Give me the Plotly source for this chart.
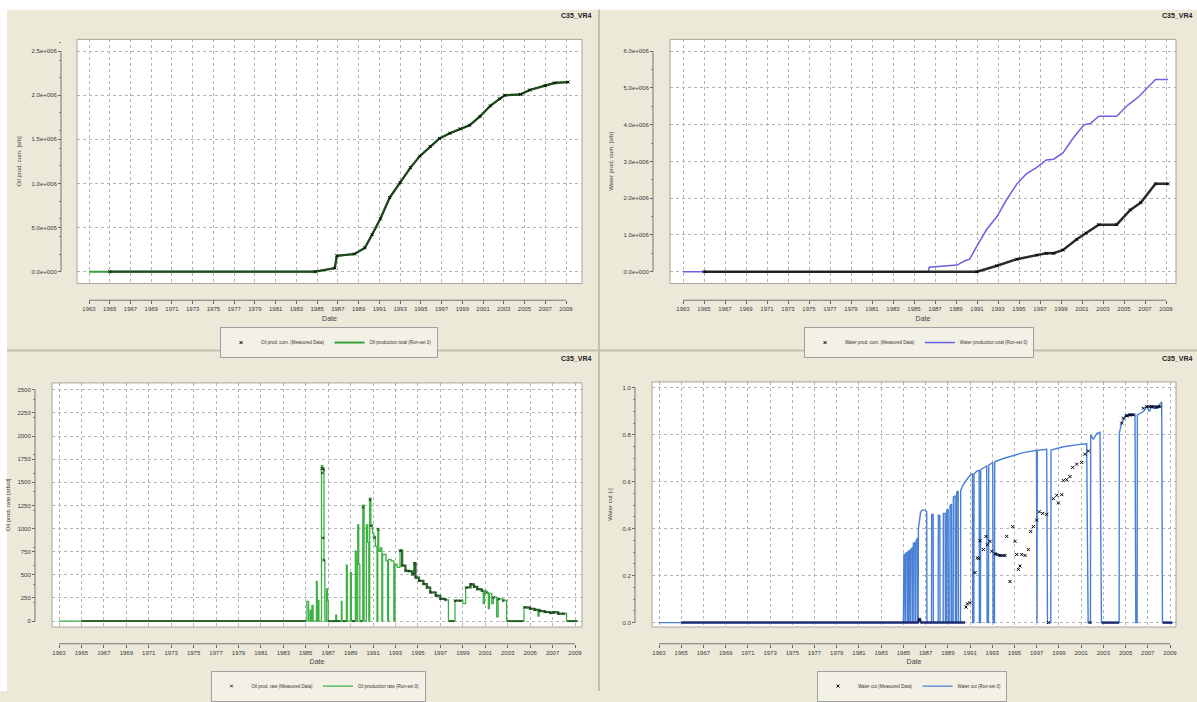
import plotly.graph_objects as go

W, H = 1197, 702
BEIGE = '#ECE9D8'
FONT = 'Liberation Sans'

# ---------------- data ----------------
year_ticks = list(range(1963, 2010, 2))
year_labels = [str(y) for y in year_ticks]

oil_cum_ticks = [0, 5e5, 1e6, 1.5e6, 2e6, 2.5e6]
oil_cum_labels = ['0.0e+000', '5.0e+005', '1.0e+006', '1.5e+006', '2.0e+006', '2.5e+006']
water_cum_ticks = [0, 1e6, 2e6, 3e6, 4e6, 5e6, 6e6]
water_cum_labels = ['0.0e+000', '1.0e+006', '2.0e+006', '3.0e+006', '4.0e+006', '5.0e+006', '6.0e+006']
oil_rate_ticks = [0, 250, 500, 750, 1000, 1250, 1500, 1750, 2000, 2250, 2500]
oil_rate_labels = [str(v) for v in oil_rate_ticks]
wcut_ticks = [0.0, 0.2, 0.4, 0.6, 0.8, 1.0]
wcut_labels = ['0.0', '0.2', '0.4', '0.6', '0.8', '1.0']

# Panel 1: oil cumulative
oil_cum_sim_years = [1963.0, 1984.8, 1986.7, 1986.9, 1988.6, 1989.6, 1990.3, 1991.1, 1992.0, 1993.0, 1994.0,
                     1994.9, 1995.9, 1996.8, 1997.8, 1998.8, 1999.7, 2000.7, 2001.7, 2002.6, 2003.1, 2004.6,
                     2005.5, 2007.0, 2007.9, 2009.3]
oil_cum_sim = [0, 0, 0.04e6, 0.18e6, 0.20e6, 0.27e6, 0.42e6, 0.60e6, 0.84e6, 1.01e6, 1.18e6,
               1.31e6, 1.42e6, 1.51e6, 1.57e6, 1.62e6, 1.66e6, 1.76e6, 1.88e6, 1.96e6, 2.00e6, 2.01e6,
               2.06e6, 2.11e6, 2.14e6, 2.15e6]
oil_cum_meas_years = [1965.0, 1984.8, 1986.7, 1986.9, 1988.6, 1989.6, 1990.3, 1991.1, 1992.0, 1993.0, 1994.0,
                      1994.9, 1995.9, 1996.8, 1997.8, 1998.8, 1999.7, 2000.7, 2001.7, 2002.6, 2003.1, 2004.6,
                      2005.5, 2007.0, 2007.9, 2009.2]
oil_cum_meas = [0, 0, 0.04e6, 0.18e6, 0.20e6, 0.27e6, 0.42e6, 0.60e6, 0.84e6, 1.01e6, 1.18e6,
                1.31e6, 1.42e6, 1.51e6, 1.57e6, 1.62e6, 1.66e6, 1.76e6, 1.88e6, 1.96e6, 2.00e6, 2.01e6,
                2.06e6, 2.11e6, 2.14e6, 2.15e6]

# Panel 2: water cumulative
water_cum_sim_years = [1963.0, 1986.35, 1986.45, 1989.1, 1989.8, 1990.3, 1991.0, 1991.9, 1992.9, 1993.8, 1994.8,
                       1995.7, 1996.7, 1997.6, 1998.3, 1999.2, 2000.2, 2001.2, 2001.8, 2002.6, 2004.3,
                       2005.4, 2006.4, 2007.2, 2008.0, 2009.2]
water_cum_sim = [0, 0, 0.12e6, 0.18e6, 0.29e6, 0.34e6, 0.70e6, 1.14e6, 1.50e6, 1.95e6, 2.39e6,
                 2.66e6, 2.84e6, 3.04e6, 3.06e6, 3.24e6, 3.65e6, 4.00e6, 4.03e6, 4.23e6, 4.23e6,
                 4.54e6, 4.76e6, 4.99e6, 5.23e6, 5.23e6]
water_cum_meas_years = [1965.0, 1991.0, 1992.9, 1994.8, 1996.7, 1997.6, 1998.3, 1999.2, 2000.5, 2001.4,
                        2002.6, 2004.3, 2005.6, 2006.6, 2008.0, 2009.2]
water_cum_meas = [0, 0, 0.16e6, 0.34e6, 0.45e6, 0.50e6, 0.50e6, 0.59e6, 0.88e6, 1.05e6,
                  1.28e6, 1.28e6, 1.68e6, 1.88e6, 2.39e6, 2.39e6]

# Panel 3: oil rate (simulation, stepwise)
oil_rate_sim_years = [1963.0, 1985.10, 1985.25, 1985.39, 1985.45, 1985.55, 1985.65, 1985.95, 1986.02, 1986.10,
                      1986.17, 1986.40, 1986.52, 1986.62, 1986.70, 1986.85, 1986.93, 1987.00, 1987.67, 1987.75,
                      1988.17, 1988.23, 1988.62, 1988.70, 1988.98, 1989.06, 1989.42, 1989.50, 1989.63, 1989.72,
                      1989.82, 1990.08, 1990.20, 1990.40, 1990.52, 1990.62, 1990.70, 1990.80, 1990.95, 1991.07,
                      1991.20, 1991.35, 1991.42, 1991.50, 1991.65, 1991.78, 1991.85, 1992.15, 1992.30, 1992.38,
                      1992.60, 1992.85, 1992.95, 1993.15, 1993.40, 1993.55, 1993.85, 1994.20, 1994.45, 1994.65,
                      1994.75, 1995.05, 1995.45, 1995.80, 1996.10, 1996.55, 1997.00, 1997.45, 1997.72, 1998.30,
                      1998.75, 1999.00, 1999.25, 1999.65, 1999.95, 2000.25, 2000.65, 2000.82, 2000.92, 2001.08,
                      2001.28, 2001.38, 2001.58, 2001.72, 2002.02, 2002.15, 2002.60, 2002.90, 2004.45, 2004.60,
                      2005.00, 2005.42, 2005.70, 2005.80, 2006.30, 2006.75, 2007.05, 2007.50, 2007.95, 2008.25,
                      2009.30]
oil_rate_sim = [0, 213, 0, 117, 0, 170, 0, 429, 0, 223,
                0, 1680, 1640, 650, 0, 347, 223, 0, 64, 0,
                213, 0, 606, 0, 525, 0, 755, 0, 1039, 613,
                0, 1252, 0, 1039, 850, 0, 1330, 1039, 950, 915,
                808, 0, 1003, 755, 790, 0, 720, 650, 0, 667,
                650, 0, 613, 580, 773, 600, 542, 542, 507, 631,
                471, 436, 400, 365, 312, 277, 241, 230, 0, 223,
                223, 190, 365, 400, 372, 347, 330, 188, 330, 310,
                135, 300, 190, 259, 46, 241, 223, 0, 152, 140,
                135, 124, 53, 110, 99, 89, 99, 82, 82, 0,
                0]
# measured oil rate: scattered points and dense runs (None separates runs)
oil_rate_meas_years = [1986.42, 1986.48, 1986.55, 1986.60, 1990.10, 1990.72, 1990.80, 1991.10, 1991.45,
                       1993.40, 1993.60, 1993.90, 1994.20, 1994.50, 1994.70, 1994.80, 1995.10, 1995.50,
                       1995.80, 1996.10, 1996.60, 1997.00, 1997.45, 1998.30, 1998.80, 1999.30, 1999.70,
                       2000.00, 2000.30, 2000.70, 2001.10, 2001.75, 2002.20, 2002.60, 2004.50, 2005.00,
                       2005.40, 2005.85, 2006.30, 2006.80, 2007.10, 2007.50, 2008.00]
oil_rate_meas = [1650, 1600, 900, 660, 1230, 1310, 1030, 900, 990,
                 760, 600, 545, 540, 505, 625, 470, 435, 400,
                 362, 310, 275, 240, 228, 220, 220, 362, 398,
                 370, 345, 328, 308, 255, 238, 220, 150, 133,
                 122, 108, 98, 88, 97, 80, 80]
oil_rate_runs_years = [1965.0, 1985.0, None, 1986.95, 1988.10, None, 1988.30, 1988.60, None, 1989.10, 1989.40,
                       None, 1989.85, 1990.05, None, 1986.42, 1986.60, None,
                       1993.40, 1993.60, 1993.90, 1994.20, 1994.50, 1994.70, 1994.80, 1995.10, 1995.50,
                       1995.80, 1996.10, 1996.60, 1997.00, 1997.45, None, 1997.75, 1998.25, None,
                       1998.30, 1998.80, None, 1999.30, 1999.70, 2000.00, 2000.30, 2000.70, None,
                       2002.95, 2004.40, None, 2004.50, 2005.00, 2005.40, 2005.85, 2006.30, 2006.80,
                       2007.10, 2007.50, 2008.00, None, 2008.30, 2009.20]
oil_rate_runs = [0, 0, None, 0, 0, None, 0, 0, None, 0, 0,
                 None, 0, 0, None, 1650, 1620, None,
                 760, 600, 545, 540, 505, 625, 470, 435, 400,
                 362, 310, 275, 240, 228, None, 0, 0, None,
                 220, 220, None, 362, 398, 370, 345, 328, None,
                 0, 0, None, 150, 133, 122, 108, 98, 88,
                 97, 80, 80, None, 0, 0]

# Panel 4: water cut (simulation)
wcut_sim_years = [1963.0, 1985.0, 1985.05, 1985.13, 1985.15, 1985.22, 1985.24, 1985.37, 1985.39, 1985.46,
                  1985.48, 1985.58, 1985.60, 1985.67, 1985.69, 1985.82, 1985.84, 1985.88, 1985.90, 1986.03,
                  1986.05, 1986.12, 1986.14, 1986.27, 1986.29, 1986.33, 1986.35, 1986.44, 1986.55, 1986.65,
                  1986.95, 1987.10, 1987.12, 1987.53, 1987.55, 1987.68, 1987.70, 1988.13, 1988.15, 1988.28,
                  1988.30, 1988.58, 1988.60, 1988.76, 1988.78, 1988.88, 1988.90, 1989.03, 1989.05, 1989.18,
                  1989.20, 1989.33, 1989.35, 1989.48, 1989.50, 1989.66, 1989.68, 1989.78, 1989.80, 1989.93,
                  1989.95, 1990.14, 1990.16, 1990.34, 1990.55, 1990.85, 1991.15, 1991.22, 1991.24, 1991.34,
                  1991.36, 1991.60, 1991.82, 1991.84, 1991.94, 1991.96, 1992.50, 1992.54, 1992.66, 1992.68,
                  1993.04, 1993.08, 1993.20, 1993.22, 1994.00, 1994.90, 1995.80, 1996.98, 1997.00, 1997.03,
                  1997.05, 1997.90, 1997.97, 1998.27, 1998.29, 1999.40, 2000.90, 2001.50, 2001.63, 2001.84,
                  2001.86, 2002.10, 2002.40, 2002.70, 2002.83, 2004.42, 2004.44, 2004.65, 2004.95, 2005.85,
                  2005.92, 2006.04, 2006.06, 2006.60, 2006.90, 2007.14, 2007.35, 2007.50, 2007.80, 2008.25,
                  2008.32, 2009.30]
wcut_sim = [0, 0, 0.29, 0.29, 0, 0, 0.297, 0.30, 0, 0,
            0.304, 0.31, 0, 0, 0.311, 0.32, 0, 0, 0.339, 0.34,
            0, 0, 0.346, 0.36, 0, 0, 0.40, 0.43, 0.47, 0.479,
            0.479, 0.472, 0, 0, 0.461, 0.461, 0, 0, 0.458, 0.455,
            0, 0, 0.465, 0.465, 0, 0, 0.479, 0.48, 0, 0,
            0.50, 0.505, 0, 0, 0.535, 0.54, 0, 0, 0.556, 0.56,
            0, 0, 0.563, 0.584, 0.60, 0.619, 0.633, 0.633, 0, 0,
            0.633, 0.645, 0.648, 0, 0, 0.651, 0.668, 0, 0, 0.671,
            0.682, 0, 0, 0.685, 0.699, 0.713, 0.724, 0.734, 0, 0,
            0.734, 0.738, 0, 0, 0.735, 0.749, 0.759, 0.762, 0, 0,
            0.80, 0.78, 0.805, 0.811, 0, 0, 0.808, 0.85, 0.878, 0.885,
            0, 0, 0.885, 0.899, 0.92, 0.899, 0.92, 0.913, 0.913, 0.94,
            0, 0]
wcut_meas_years = [1986.45, 1990.64, 1990.76, 1991.00, 1991.45, 1991.66, 1991.78, 1991.90, 1992.20, 1992.44,
                   1992.56, 1992.80, 1992.95, 1993.25, 1993.70, 1994.15, 1994.30, 1994.60, 1994.84, 1995.05,
                   1995.20, 1995.35, 1995.50, 1995.65, 1995.95, 1996.25, 1996.46, 1996.70, 1997.00, 1997.24,
                   1997.54, 1997.90, 1998.05, 1998.50, 1998.80, 1998.95, 1999.25, 1999.40, 1999.70, 2000.00,
                   2000.24, 2000.60, 2001.05, 2001.35, 2001.65, 2001.80, 2004.65, 2004.80, 2005.10, 2005.40,
                   2005.70, 2006.60, 2006.90, 2007.35, 2007.80, 2008.10]
wcut_meas = [0.015, 0.066, 0.08, 0.085, 0.213, 0.276, 0.273, 0.349, 0.311, 0.367,
             0.332, 0.346, 0.304, 0.293, 0.286, 0.286, 0.367, 0.175, 0.409, 0.346,
             0.29, 0.227, 0.241, 0.29, 0.286, 0.311, 0.388, 0.409, 0.437, 0.472,
             0.465, 0.461, 0.0, 0.528, 0.542, 0.51, 0.545, 0.605, 0.609, 0.622,
             0.661, 0.675, 0.682, 0.717, 0.731, 0.0, 0.85, 0.871, 0.88, 0.885,
             0.885, 0.913, 0.92, 0.92, 0.917, 0.92]
wcut_runs_years = [1965.0, 1986.30, 1986.45, 1986.60, 1990.55, None, 1993.25, 1993.70, 1994.15, None,
                   2002.85, 2004.42, None, 2004.95, 2005.40, 2005.75, None, 2006.90, 2007.35, 2007.80, 2008.10,
                   None, 2008.35, 2009.20]
wcut_runs = [0, 0, 0.015, 0, 0, None, 0.293, 0.286, 0.286, None,
             0, 0, None, 0.88, 0.885, 0.885, None, 0.92, 0.92, 0.917, 0.92,
             None, 0, 0]

# ---------------- layout helpers (pixel geometry) ----------------
def px(x):
    return x / W


def py(y):
    return 1 - y / H


panels = [
    dict(l=77, r=582, t=40, b=288, yline=61, xline=305, x63=89, x09=566, y0=276, ytop=52,
         ticks=oil_cum_ticks, labels=oil_cum_labels, ytitle='Oil prod. cum. [stb]', ystand=8,
         leg=(329, 348), ttl=(593, 16)),
    dict(l=670, r=1176, t=40, b=288, yline=653, xline=305, x63=683, x09=1166, y0=276, ytop=52,
         ticks=water_cum_ticks, labels=water_cum_labels, ytitle='Water prod. cum. [stb]', ystand=8,
         leg=(919, 348), ttl=(1194, 16)),
    dict(l=52, r=582, t=389, b=637, yline=35, xline=654, x63=59, x09=575, y0=631, ytop=396,
         ticks=oil_rate_ticks, labels=oil_rate_labels, ytitle='Oil prod. rate [stb/d]', ystand=5,
         leg=(318, 697), ttl=(593, 364)),
    dict(l=652, r=1176, t=388, b=637, yline=635, xline=654, x63=659, x09=1170, y0=632.5, ytop=394,
         ticks=wcut_ticks, labels=wcut_labels, ytitle='Water cut [-]', ystand=8,
         leg=(912, 697), ttl=(1194, 364)),
]

fig = go.Figure()
shapes = []
annotations = []
layout = dict(
    width=W, height=H, margin=dict(l=0, r=0, t=0, b=0),
    paper_bgcolor=BEIGE, plot_bgcolor='white',
    font=dict(family=FONT, size=6, color='#333333'),
)

# background decorations
shapes.append(dict(type='rect', xref='paper', yref='paper', x0=0, x1=1, y0=py(10), y1=1,
                   fillcolor='white', line=dict(width=0), layer='below'))
shapes.append(dict(type='rect', xref='paper', yref='paper', x0=0, x1=px(7), y0=0, y1=1,
                   fillcolor='white', line=dict(width=0), layer='below'))
shapes.append(dict(type='line', xref='paper', yref='paper', x0=px(599), x1=px(599), y0=0, y1=py(10),
                   line=dict(color='#c2bfae', width=2)))
shapes.append(dict(type='line', xref='paper', yref='paper', x0=px(7), x1=1, y0=py(356), y1=py(356),
                   line=dict(color='#c2bfae', width=2)))

for i, p in enumerate(panels, start=1):
    sfx = '' if i == 1 else str(i)
    ppy = (p['x09'] - p['x63']) / 46.0
    xr = [1963 - (p['x63'] - p['l']) / ppy, 2009 + (p['r'] - p['x09']) / ppy]
    top_tick = p['ticks'][-1]
    ppv = (p['y0'] - p['ytop']) / top_tick
    yr = [-(p['b'] - p['y0']) / ppv, top_tick + (p['ytop'] - p['t']) / ppv]

    layout['xaxis' + sfx] = dict(
        domain=[px(p['l']), px(p['r'])], range=xr, anchor='free', position=py(p['xline']),
        tickvals=year_ticks, ticktext=year_labels, ticks='outside', ticklen=3, tickcolor='#666',
        tickfont=dict(size=6, color='#3a3a3a'), showline=False, zeroline=False,
        showgrid=True, gridcolor='#b4b4b4', griddash='dot', gridwidth=1,
        title=dict(text='Date', font=dict(size=7, color='#444'), standoff=4),
    )
    layout['yaxis' + sfx] = dict(
        domain=[py(p['b']), py(p['t'])], range=yr, anchor='free', position=px(p['yline']),
        tickvals=p['ticks'], ticktext=p['labels'], ticks='outside', ticklen=3, tickcolor='#666',
        tickfont=dict(size=6, color='#3a3a3a'), showline=False, zeroline=False,
        showgrid=True, gridcolor='#b4b4b4', griddash='dot', gridwidth=1,
        minor=dict(ticks='outside', ticklen=2, tickcolor='#888', nticks=5, showgrid=False),
        title=dict(text=p['ytitle'], font=dict(size=6, color='#444'), standoff=p['ystand']),
    )
    xa = 'x' + sfx
    ya = 'y' + sfx
    # axis lines over tick range
    shapes.append(dict(type='line', xref='paper', yref=ya, x0=px(p['yline']), x1=px(p['yline']),
                       y0=p['ticks'][0], y1=top_tick, line=dict(color='#777', width=1)))
    shapes.append(dict(type='line', xref=xa, yref='paper', x0=1963, x1=2009,
                       y0=py(p['xline']), y1=py(p['xline']), line=dict(color='#777', width=1)))
    # plot frame
    shapes.append(dict(type='rect', xref=xa + ' domain', yref=ya + ' domain', x0=0, x1=1, y0=0, y1=1,
                       line=dict(color='#a8a697', width=1)))
    annotations.append(dict(text='<b>C35_VR4</b>', xref='paper', yref='paper', x=px(p['ttl'][0]),
                            y=py(p['ttl'][1]), xanchor='right', yanchor='middle', showarrow=False,
                            font=dict(size=7, color='#222')))
    legname = 'legend' if i == 1 else 'legend' + str(i)
    layout[legname] = dict(
        x=px(p['leg'][0]), y=py(p['leg'][1]), xanchor='center', yanchor='middle',
        orientation='h', bgcolor='#F3F1E6', bordercolor='#a0a0a0', borderwidth=1,
        font=dict(size=4.5, color='#333'), itemwidth=30, tracegroupgap=0,
    )

MEAS_MARK = dict(symbol='x-thin-open', size=3, line=dict(width=1, color='black'), color='black')
MEAS_MARK_SMALL = dict(symbol='x-thin-open', size=2.5, line=dict(width=1, color='#1b3a1b'), color='#1b3a1b')

# Panel 1
fig.add_trace(go.Scatter(x=oil_cum_sim_years, y=oil_cum_sim, mode='lines', name='Oil production total (Run-set 0)',
                         line=dict(color='#3aa03a', width=2), xaxis='x', yaxis='y', legend='legend', legendrank=2))
fig.add_trace(go.Scatter(x=oil_cum_meas_years, y=oil_cum_meas, mode='lines+markers', showlegend=False,
                         line=dict(color='rgba(25,55,25,0.85)', width=2.2), marker=MEAS_MARK,
                         xaxis='x', yaxis='y', legend='legend'))
fig.add_trace(go.Scatter(x=[None], y=[None], mode='markers', name='Oil prod. cum. (Measured Data)',
                         marker=MEAS_MARK, xaxis='x', yaxis='y', legend='legend', legendrank=1))

# Panel 2
fig.add_trace(go.Scatter(x=water_cum_sim_years, y=water_cum_sim, mode='lines', name='Water production total (Run-set 0)',
                         line=dict(color='#6a62e0', width=1.5), xaxis='x2', yaxis='y2', legend='legend2', legendrank=2))
fig.add_trace(go.Scatter(x=water_cum_meas_years, y=water_cum_meas, mode='lines+markers', showlegend=False,
                         line=dict(color='rgba(20,20,20,0.9)', width=2.5), marker=MEAS_MARK,
                         xaxis='x2', yaxis='y2', legend='legend2'))
fig.add_trace(go.Scatter(x=[None], y=[None], mode='markers', name='Water prod. cum. (Measured Data)',
                         marker=MEAS_MARK, xaxis='x2', yaxis='y2', legend='legend2', legendrank=1))

# Panel 3
fig.add_trace(go.Scatter(x=oil_rate_sim_years, y=oil_rate_sim, mode='lines', line_shape='hv',
                         name='Oil production rate (Run-set 0)', line=dict(color='#3cb043', width=1.3),
                         xaxis='x3', yaxis='y3', legend='legend3', legendrank=2))
fig.add_trace(go.Scatter(x=oil_rate_runs_years, y=oil_rate_runs, mode='lines', line_shape='hv', showlegend=False,
                         line=dict(color='rgba(30,80,30,0.85)', width=2), xaxis='x3', yaxis='y3',
                         legend='legend3', connectgaps=False))
fig.add_trace(go.Scatter(x=oil_rate_meas_years, y=oil_rate_meas, mode='markers', name='Oil prod. rate (Measured Data)',
                         marker=MEAS_MARK_SMALL, xaxis='x3', yaxis='y3', legend='legend3', legendrank=1))

# Panel 4
fig.add_trace(go.Scatter(x=wcut_sim_years, y=wcut_sim, mode='lines', name='Water cut (Run-set 0)',
                         line=dict(color='#4a7fd6', width=1.4), xaxis='x4', yaxis='y4', legend='legend4', legendrank=2))
fig.add_trace(go.Scatter(x=wcut_runs_years, y=wcut_runs, mode='lines', showlegend=False,
                         line=dict(color='rgba(25,40,110,0.95)', width=2.5), xaxis='x4', yaxis='y4',
                         legend='legend4', connectgaps=False))
fig.add_trace(go.Scatter(x=wcut_meas_years, y=wcut_meas, mode='markers', name='Water cut (Measured Data)',
                         marker=MEAS_MARK, xaxis='x4', yaxis='y4', legend='legend4', legendrank=1))

layout['shapes'] = shapes
layout['annotations'] = annotations
fig.update_layout(**layout)
fig.write_html('out.html')
